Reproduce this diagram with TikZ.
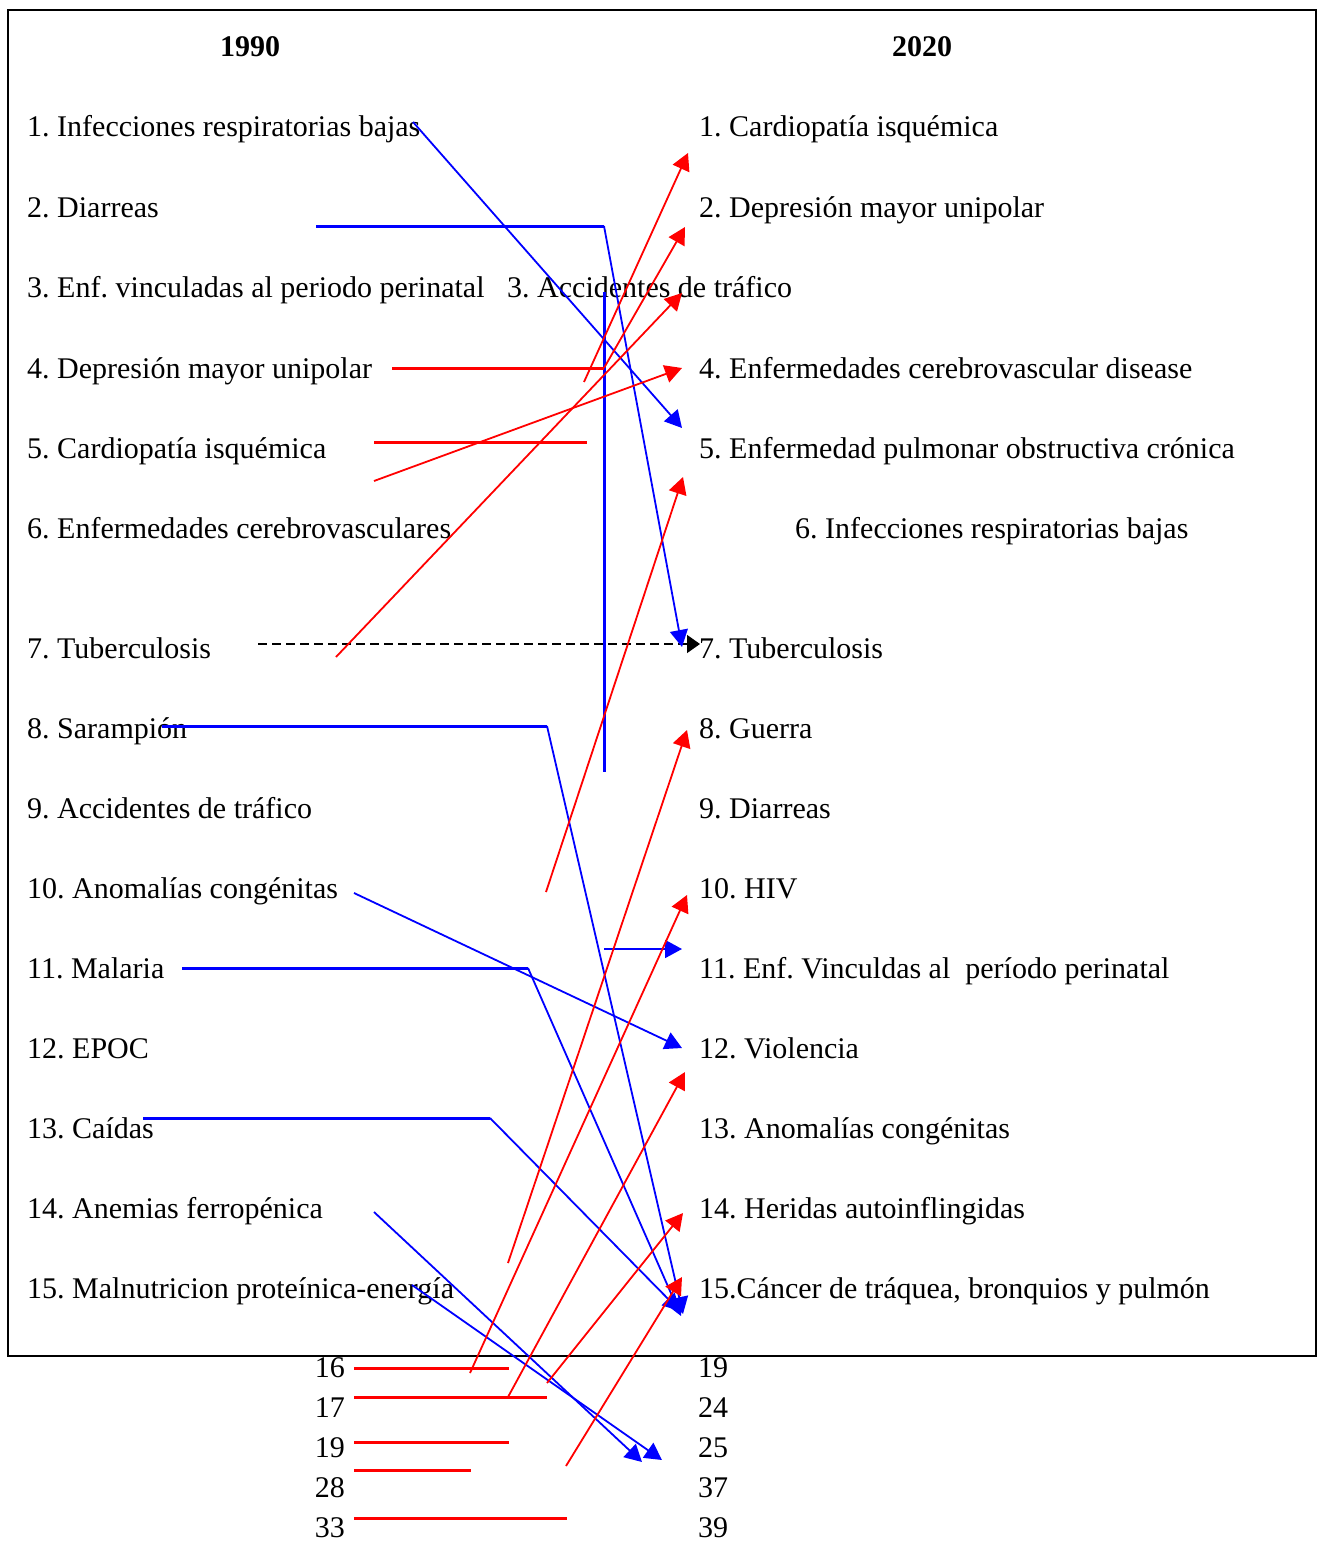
\documentclass[tikz,border=0pt]{standalone}
\usepackage{fontspec}
\setmainfont{Liberation Serif}
\usetikzlibrary{arrows.meta}
\begin{document}
\frenchspacing
\begin{tikzpicture}[x=1pt,y=-1pt,
  lab/.style={anchor=base west,inner sep=0pt,font=\fontsize{30}{36}\selectfont},
  labr/.style={anchor=base east,inner sep=0pt,font=\fontsize{30}{36}\selectfont},
  hdr/.style={anchor=base,inner sep=0pt,font=\fontsize{30}{36}\selectfont\bfseries},
  tip/.style={-{Triangle[length=17pt,width=18pt]}},
  bthin/.style={draw=blue,line width=1.8pt},
  bthick/.style={draw=blue,line width=3pt},
  rthin/.style={draw=red,line width=1.8pt},
  rthick/.style={draw=red,line width=3pt},
  dashln/.style={draw=black,line width=1.6pt,dash pattern=on 9pt off 5pt}]
\useasboundingbox (0,0) rectangle (1318,1541);
\draw[line width=2pt] (8,10) rectangle (1316,1356);
% headers
\node[hdr] (h1) at (250,57) {1990};
\node[hdr] (h2) at (922,57) {2020};
% left column
\node[lab] (l1) at (27,137) {1. Infecciones respiratorias bajas};
\node[lab] (l2) at (27,217) {2. Diarreas};
\node[lab] (l3) at (27,297) {3. Enf. vinculadas al periodo perinatal};
\node[lab] (l4) at (27,378) {4. Depresión mayor unipolar};
\node[lab] (l5) at (27,458) {5. Cardiopatía isquémica};
\node[lab] (l6) at (27,538) {6. Enfermedades cerebrovasculares};
\node[lab] (l7) at (27,658) {7. Tuberculosis};
\node[lab] (l8) at (27,738) {8. Sarampión};
\node[lab] (l9) at (27,818) {9. Accidentes de tráfico};
\node[lab] (l10) at (27,898) {10. Anomalías congénitas};
\node[lab] (l11) at (27,978) {11. Malaria};
\node[lab] (l12) at (27,1058) {12. EPOC};
\node[lab] (l13) at (27,1138) {13. Caídas};
\node[lab] (l14) at (27,1218) {14. Anemias ferropénica};
\node[lab] (l15) at (27,1298) {15. Malnutricion proteínica-energía};
% right column
\node[lab] (r1) at (699,137) {1. Cardiopatía isquémica};
\node[lab] (r2) at (699,217) {2. Depresión mayor unipolar};
\node[lab] (r3) at (507,297) {3. Accidentes de tráfico};
\node[lab] (r4) at (699,378) {4. Enfermedades cerebrovascular disease};
\node[lab] (r5) at (699,458) {5. Enfermedad pulmonar obstructiva crónica};
\node[lab] (r6) at (795,538) {6. Infecciones respiratorias bajas};
\node[lab] (r7) at (699,658) {7. Tuberculosis};
\node[lab] (r8) at (699,738) {8. Guerra};
\node[lab] (r9) at (699,818) {9. Diarreas};
\node[lab] (r10) at (699,898) {10. HIV};
\node[lab] (r11) at (699,978) {11. Enf. Vinculdas al\hspace{0.25em} período perinatal};
\node[lab] (r12) at (699,1058) {12. Violencia};
\node[lab] (r13) at (699,1138) {13. Anomalías congénitas};
\node[lab] (r14) at (699,1218) {14. Heridas autoinflingidas};
\node[lab] (r15) at (699,1298) {15.Cáncer de tráquea, bronquios y pulmón};
% bottom numbers
\node[labr] (n16) at (345,1377) {16};
\node[labr] (n17) at (345,1417) {17};
\node[labr] (n19) at (345,1457) {19};
\node[labr] (n28) at (345,1497) {28};
\node[labr] (n33) at (345,1537) {33};
\node[lab] (m19) at (698,1377) {19};
\node[lab] (m24) at (698,1417) {24};
\node[lab] (m25) at (698,1457) {25};
\node[lab] (m37) at (698,1497) {37};
\node[lab] (m39) at (698,1537) {39};
% coordinates
\coordinate (b1s) at (413,122);  \coordinate (b1e) at (682,428);
\coordinate (b2s) at (316,226);  \coordinate (b2k) at (604,226); \coordinate (b2e) at (682,647);
\coordinate (b3s) at (604,292);  \coordinate (b3e) at (604,772);
\coordinate (b4s) at (162,726);  \coordinate (b4k) at (547,726); \coordinate (b4e) at (683,1314);
\coordinate (b5s) at (354,893);  \coordinate (b5e) at (682,1048);
\coordinate (b6s) at (182,968);  \coordinate (b6k) at (528,968); \coordinate (b6e) at (681,1316);
\coordinate (b7s) at (604,949);  \coordinate (b7e) at (682,949);
\coordinate (b8s) at (143,1118); \coordinate (b8k) at (490,1118); \coordinate (b8e) at (680,1311);
\coordinate (b9s) at (374,1212); \coordinate (b9e) at (642,1462);
\coordinate (b10s) at (412,1285); \coordinate (b10e) at (662,1460);
\coordinate (r1s) at (392,368);  \coordinate (r1e) at (604,368);
\coordinate (r2s) at (584,382);  \coordinate (r2e) at (688,153);
\coordinate (r3s) at (374,442);  \coordinate (r3e) at (587,442);
\coordinate (r4s) at (374,481);  \coordinate (r4e) at (682,368);
\coordinate (r5s) at (336,657);  \coordinate (r5e) at (682,293);
\coordinate (r6e) at (685,227);
\coordinate (r7s) at (546,892);  \coordinate (r7e) at (683,477);
\coordinate (r8s) at (508,1263); \coordinate (r8e) at (687,730);
\coordinate (r9s) at (470,1373); \coordinate (r9e) at (687,895);
\coordinate (r10s) at (508,1397); \coordinate (r10e) at (685,1072);
\coordinate (r11s) at (547,1383); \coordinate (r11e) at (683,1213);
\coordinate (r12s) at (566,1466); \coordinate (r12e) at (682,1277);
\coordinate (h16s) at (354,1368); \coordinate (h16e) at (509,1368);
\coordinate (h17s) at (354,1397); \coordinate (h17e) at (547,1397);
\coordinate (h19s) at (354,1442); \coordinate (h19e) at (509,1442);
\coordinate (h28s) at (354,1470); \coordinate (h28e) at (471,1470);
\coordinate (h33s) at (354,1518); \coordinate (h33e) at (567,1518);
\coordinate (ds) at (258,644); \coordinate (de) at (700,644);
% dashed
\draw[dashln,-{Triangle[length=13pt,width=18pt]}] (ds) -- (de);
% blue
\draw[bthin,tip,blue] (b1s) -- (b1e);
\draw[bthick] (b2s) -- (b2k);
\draw[bthin,tip,blue] (b2k) -- (b2e);
\draw[bthick] (b3s) -- (b3e);
\draw[bthick] (b4s) -- (b4k);
\draw[bthin,tip,blue] (b4k) -- (b4e);
\draw[bthin,tip,blue] (b5s) -- (b5e);
\draw[bthick] (b6s) -- (b6k);
\draw[bthin,tip,blue] (b6k) -- (b6e);
\draw[bthin,tip,blue] (b7s) -- (b7e);
\draw[bthick] (b8s) -- (b8k);
\draw[bthin,tip,blue] (b8k) -- (b8e);
\draw[bthin,tip,blue] (b9s) -- (b9e);
\draw[bthin,tip,blue] (b10s) -- (b10e);
% red
\draw[rthick] (r1s) -- (r1e);
\draw[rthin,tip,red] (r2s) -- (r2e);
\draw[rthick] (r3s) -- (r3e);
\draw[rthin,tip,red] (r4s) -- (r4e);
\draw[rthin,tip,red] (r5s) -- (r5e);
\draw[rthin,tip,red] (r1e) -- (r6e);
\draw[rthin,tip,red] (r7s) -- (r7e);
\draw[rthin,tip,red] (r8s) -- (r8e);
\draw[rthin,tip,red] (r9s) -- (r9e);
\draw[rthin,tip,red] (r10s) -- (r10e);
\draw[rthin,tip,red] (r11s) -- (r11e);
\draw[rthin,tip,red] (r12s) -- (r12e);
\draw[rthick] (h16s) -- (h16e);
\draw[rthick] (h17s) -- (h17e);
\draw[rthick] (h19s) -- (h19e);
\draw[rthick] (h28s) -- (h28e);
\draw[rthick] (h33s) -- (h33e);
\end{tikzpicture}
\end{document}
